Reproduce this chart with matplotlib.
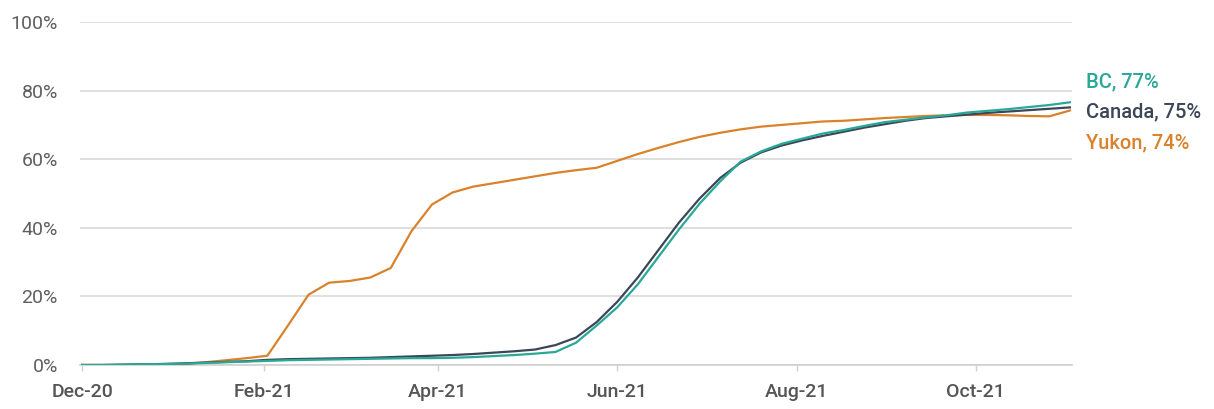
import matplotlib
matplotlib.use("Agg")
import matplotlib.pyplot as plt
import matplotlib.dates as mdates
import pandas as pd

# ── Data (weekly, % of population vaccinated) ─────────────────────────
weeks = pd.date_range("2020-12-01", periods=49, freq="7D")

canada = [0, 0, 0.1, 0.2, 0.3, 0.5, 0.7, 0.9, 1.1, 1.5,
          1.7, 1.8, 1.9, 2.0, 2.1, 2.3, 2.5, 2.7, 2.9, 3.2,
          3.6, 4.0, 4.5, 5.8, 8.0, 12.5, 18.4, 25.5, 33.5, 41.5,
          48.5, 54.5, 59.0, 62.0, 64.0, 65.5, 66.8, 68.0, 69.2, 70.2,
          71.2, 72.0, 72.5, 73.0, 73.5, 73.9, 74.3, 74.7, 75.1]

bc = [0, 0, 0.1, 0.2, 0.3, 0.4, 0.6, 0.8, 1.0, 1.2,
      1.4, 1.5, 1.6, 1.7, 1.8, 1.9, 2.0, 2.0, 2.1, 2.3,
      2.6, 2.9, 3.3, 3.8, 6.5, 11.5, 16.8, 23.5, 31.5, 39.5,
      47.0, 53.5, 59.3, 62.3, 64.5, 66.0, 67.5, 68.5, 69.7, 70.8,
      71.5, 72.2, 72.8, 73.6, 74.1, 74.6, 75.2, 75.8, 76.6]

yukon = [0, 0, 0, 0, 0.1, 0.3, 0.8, 1.4, 2.0, 2.7,
         11.5, 20.5, 24.0, 24.5, 25.5, 28.3, 39.0, 46.8, 50.3, 52.0,
         53.0, 54.0, 55.0, 56.0, 56.8, 57.5, 59.5, 61.5, 63.3, 65.0,
         66.5, 67.7, 68.7, 69.5, 70.0, 70.5, 71.0, 71.2, 71.6, 72.0,
         72.3, 72.6, 72.8, 72.9, 72.9, 72.8, 72.6, 72.5, 74.2]

series_names = ["BC, 77%", "Canada, 75%", "Yukon, 74%"]
series_colors = ["#2aa897", "#3b4757", "#d9822b"]
y_ticks = [0, 20, 40, 60, 80, 100]

font = ["Roboto", "DejaVu Sans"]

# ── Figure ────────────────────────────────────────────────────────────
fig = plt.figure(figsize=(12.14, 4.09), dpi=100)
ax = fig.add_axes([0.066, 0.1076, 0.817, 0.8386])

for vals, color in zip([yukon, canada, bc], [series_colors[2], series_colors[1], series_colors[0]]):
    ax.plot(weeks, vals, color=color, lw=1.6, zorder=3)

# axes limits
ax.set_xlim(pd.Timestamp("2020-12-01") - pd.Timedelta(days=0.7),
            pd.Timestamp("2020-12-01") + pd.Timedelta(days=336.7))
ax.set_ylim(0, 100)

# ticks
ax.xaxis.set_major_locator(mdates.MonthLocator(bymonth=[12, 2, 4, 6, 8, 10]))
ax.xaxis.set_major_formatter(mdates.DateFormatter("%b-%y"))
ax.set_yticks(y_ticks)
ax.set_yticklabels([f"{v}%" for v in y_ticks])

for lab in ax.get_xticklabels():
    lab.set_family(font)
    lab.set_fontsize(14)
    lab.set_fontweight("medium")
    lab.set_color("#555555")
for lab in ax.get_yticklabels():
    lab.set_family(font)
    lab.set_fontsize(14)
    lab.set_color("#5f5f5f")

ax.tick_params(axis="x", length=4, color="#d0d0d0", width=1, pad=9)
ax.tick_params(axis="y", length=0, pad=16)

# grid & spines
ax.yaxis.grid(True, color="#d9d9d9", linewidth=1.2, zorder=0)
ax.set_axisbelow(True)
for side in ["top", "right", "left"]:
    ax.spines[side].set_visible(False)
ax.spines["bottom"].set_color("#d0d0d0")
ax.spines["bottom"].set_linewidth(1.2)

# ── End labels ────────────────────────────────────────────────────────
for name, color, ypos in zip(series_names, series_colors, [82.5, 73.8, 64.7]):
    ax.text(1.014, ypos / 100, name, transform=ax.transAxes, color=color,
            fontsize=14.5, family=font, fontweight="medium", ha="left", va="center")

fig.savefig("out.png", dpi=100, facecolor="white")
